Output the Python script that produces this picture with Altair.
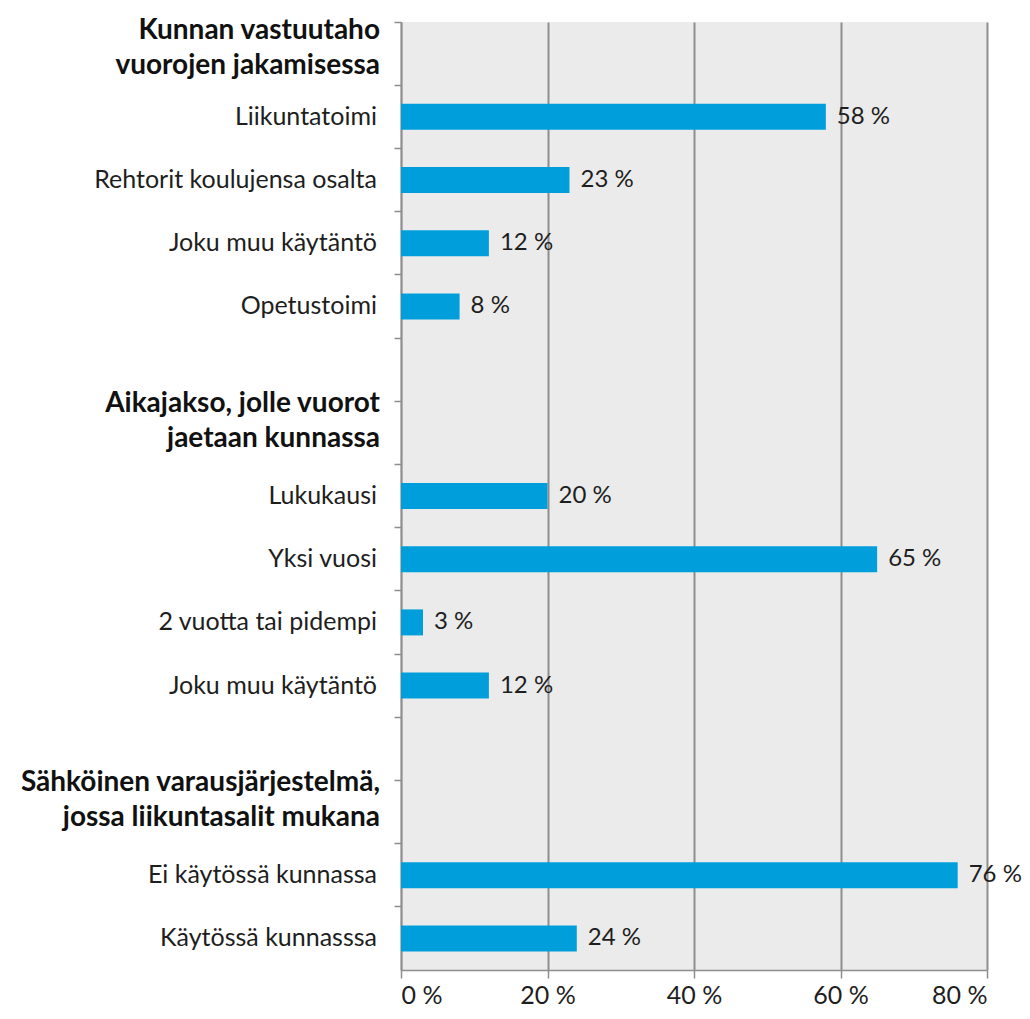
import altair as alt
import pandas as pd

labels = [
    "Kunnan vastuutaho\nvuorojen jakamisessa",
    "Liikuntatoimi",
    "Rehtorit koulujensa osalta",
    "Joku muu käytäntö",
    "Opetustoimi",
    "",
    "Aikajakso, jolle vuorot\njaetaan kunnassa",
    "Lukukausi",
    "Yksi vuosi",
    "2 vuotta tai pidempi",
    "Joku muu käytäntö",
    "",
    "Sähköinen varausjärjestelmä,\njossa liikuntasalit mukana",
    "Ei käytössä kunnassa",
    "Käytössä kunnasssa",
]
values = [None, 58, 23, 12, 8, None, None, 20, 65, 3, 12, None, None, 76, 24]
is_header = [True, False, False, False, False, False, True, False, False, False, False, False, True, False, False]
x_ticks = [0, 20, 40, 60, 80]

ids = [f"r{i:02d}" for i in range(len(labels))]
df = pd.DataFrame({"id": ids, "label": labels, "value": values, "header": is_header})
df["vlabel"] = [f"{int(v)} %" if pd.notna(v) else "" for v in values]

FONT = "Lato"
GRID = "#8e8e8e"
TXT = "#1e1e1e"

yscale = alt.Scale(domain=ids, paddingInner=0, paddingOuter=0)
y_enc = alt.Y("id:N", sort=ids, scale=yscale,
              axis=alt.Axis(labels=False, title=None, ticks=True, tickSize=7, bandPosition=0,
                            tickColor=GRID, domainColor=GRID, domainWidth=1.5, tickWidth=1.5, grid=False))
y_plain = alt.Y("id:N", sort=ids, scale=yscale)
x_enc = alt.X("value:Q", scale=alt.Scale(domain=[0, 80]),
              axis=alt.Axis(values=x_ticks, title=None, grid=True, gridColor=GRID, gridWidth=2,
                            domainColor=GRID, domainWidth=1.5, tickColor=GRID, tickWidth=1.5, tickSize=8,
                            labelExpr="datum.value + ' %'", labelFont=FONT, labelFontSize=25,
                            labelColor=TXT, labelPadding=5))

bars = alt.Chart(df).transform_filter("isValid(datum.value)").mark_bar(
    size=26, color="#009fdb"
).encode(x=x_enc, y=y_enc)

vals = alt.Chart(df).transform_filter("isValid(datum.value)").mark_text(
    align="left", baseline="middle", dx=11, font=FONT, fontSize=24, color=TXT
).encode(x="value:Q", y=y_plain, text="vlabel:N")

normal = alt.Chart(df).transform_filter("!datum.header && datum.label != ''").mark_text(
    align="right", baseline="middle", font=FONT, fontSize=25, color=TXT
).encode(x=alt.value(-24), y=y_plain, text="label:N")

head_style = dict(align="right", baseline="middle", font=FONT, fontSize=28, fontWeight="bold",
                  color="#111111", lineBreak="\n", lineHeight=35)

heads_first = alt.Chart(df).transform_filter(f"datum.header && datum.id == '{ids[0]}'").mark_text(
    dy=-23, **head_style
).encode(x=alt.value(-21), y=y_plain, text="label:N")

heads_rest = alt.Chart(df).transform_filter(f"datum.header && datum.id != '{ids[0]}'").mark_text(
    dy=-29, **head_style
).encode(x=alt.value(-21), y=y_plain, text="label:N")

chart = alt.layer(bars, vals, normal, heads_first, heads_rest).properties(
    width=586, height=948,
    autosize=alt.AutoSizeParams(type="none"),
    padding={"left": 393, "top": 14, "right": 35, "bottom": 40},
).configure_view(fill="#ebebeb", stroke=None)

chart.save("out.html", embed_options={"renderer": "svg", "actions": False})
